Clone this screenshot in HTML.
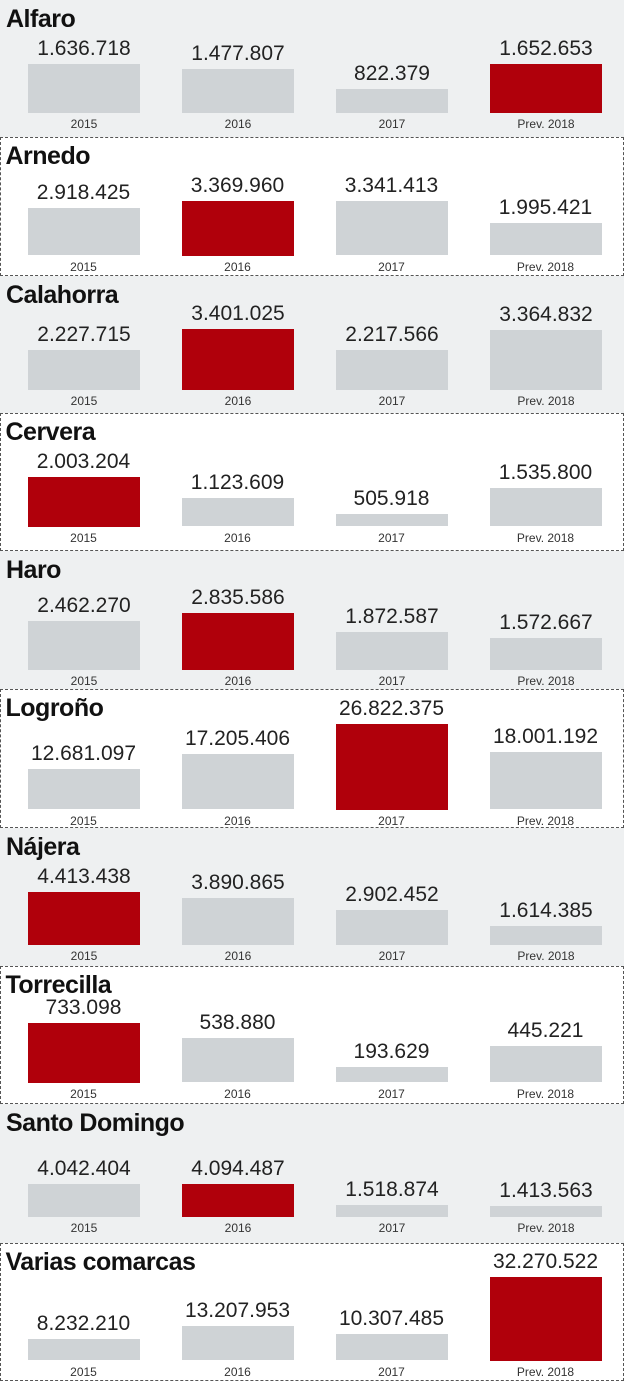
<!DOCTYPE html>
<html><head><meta charset="utf-8">
<style>
body{margin:0;width:624px;height:1381px;overflow:hidden;background:#eef0f1;font-family:"Liberation Sans Narrow","Liberation Sans",sans-serif;}
#root{position:relative;width:624px;height:1381px;}
.panel{position:absolute;left:0;width:624px;box-sizing:border-box;}
.panel.alt{background:#fff;border:1.5px dashed #555;}
.title{position:absolute;left:6px;font-weight:bold;font-size:25px;letter-spacing:-0.5px;color:#111;font-family:"Liberation Sans Narrow","Liberation Sans",sans-serif;}
.bar{position:absolute;width:112px;}
.val{position:absolute;width:160px;text-align:center;font-size:21px;color:#222;}
.yr{position:absolute;width:160px;text-align:center;font-size:12px;color:#333;}
</style></head>
<body><div id="root"></div>
<script>
const towns=["Alfaro","Arnedo","Calahorra","Cervera","Haro","Logroño","Nájera","Torrecilla","Santo Domingo","Varias comarcas"];
const years=["2015","2016","2017","Prev. 2018"];
const v2015=[1636718,2918425,2227715,2003204,2462270,12681097,4413438,733098,4042404,8232210];
const v2016=[1477807,3369960,3401025,1123609,2835586,17205406,3890865,538880,4094487,13207953];
const v2017=[822379,3341413,2217566,505918,1872587,26822375,2902452,193629,1518874,10307485];
const v2018=[1652653,1995421,3364832,1535800,1572667,18001192,1614385,445221,1413563,32270522];
// layout (not data)
const panelTop=[0,137,276,413,551,689,828,966,1104,1243];
const panelH=[137,139,137,138,138,139,138,138,139,138];
const baseOff=[113,119,114,114,119,121,117,117,113,118];
const maxH=[49,55,61,50,57,86,53,60,33,84];
const barX=[28,182,336,490];
const series=[v2015,v2016,v2017,v2018];
const fmt=n=>String(n).replace(/\B(?=(\d{3})+(?!\d))/g,".");
const root=document.getElementById('root');
towns.forEach((t,i)=>{
  const p=document.createElement('div');
  p.className='panel'+(i%2?' alt':'');
  
  
  p.style.top=panelTop[i]+'px';p.style.height=panelH[i]+'px';
  root.appendChild(p);
  const off=i%2?1.5:0;
  const ti=document.createElement('div');ti.className='title';ti.textContent=t;
  
  
  ti.style.top=(5-off)+'px';ti.style.left=(6-off)+'px';
  p.appendChild(ti);
  const vals=series.map(s=>s[i]);
  const mx=Math.max(...vals);
  const base=baseOff[i];
  vals.forEach((v,j)=>{
    const h=v/mx*maxH[i];
    const b=document.createElement('div');b.className='bar';
    
    
    b.style.left=(barX[j]-off)+'px';b.style.top=(base-h-off)+'px';b.style.height=h+'px';
    b.style.background=v===mx?'#b0000b':'#cfd3d6';
    p.appendChild(b);
    const l=document.createElement('div');l.className='val';l.textContent=fmt(v);
    
    
    l.style.left=(barX[j]+56-80-off)+'px';l.style.top=(base-h-27-off)+'px';
    p.appendChild(l);
    const y=document.createElement('div');y.className='yr';y.textContent=years[j];
    
    
    y.style.left=(barX[j]+56-80-off)+'px';y.style.top=(base+4-off)+'px';
    p.appendChild(y);
  });
});
</script></body></html>
